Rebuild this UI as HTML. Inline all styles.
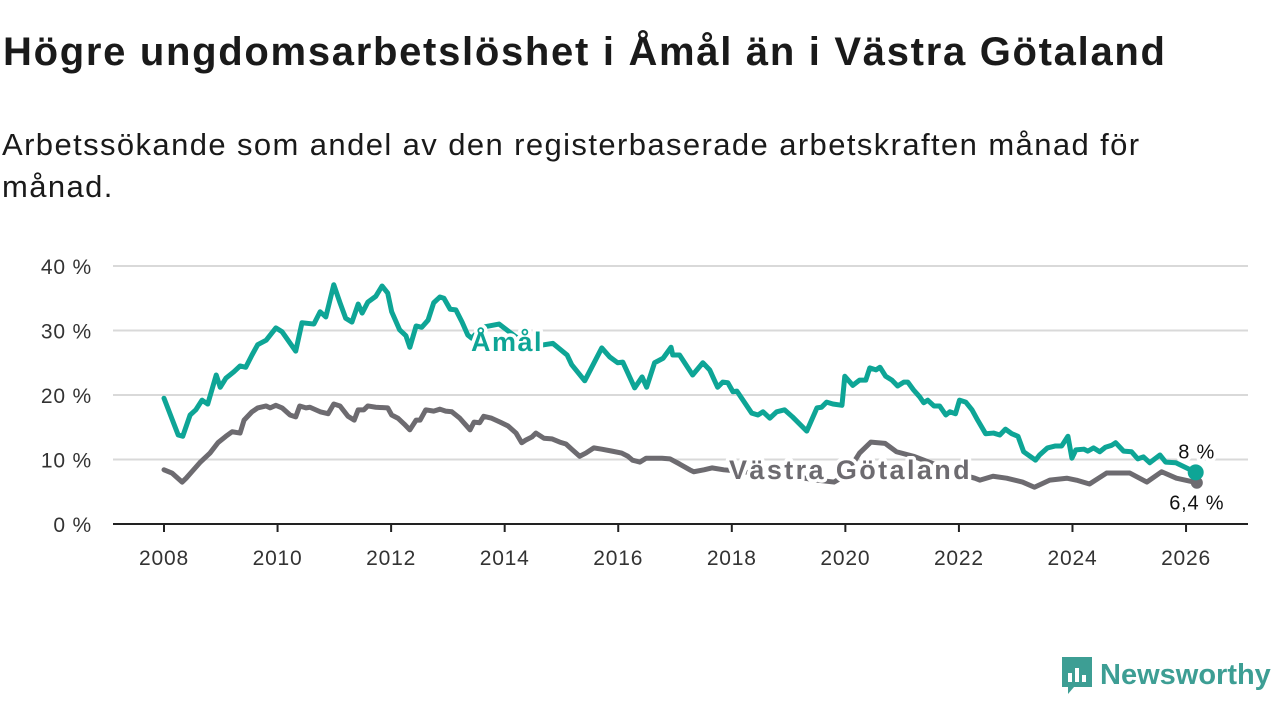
<!DOCTYPE html>
<html><head><meta charset="utf-8">
<style>
body{margin:0;width:1280px;height:720px;background:#fff;font-family:"Liberation Sans","DejaVu Sans",sans-serif;overflow:hidden;position:relative}
h1{position:absolute;left:3px;top:30px;margin:0;font-size:40px;font-weight:bold;color:#1a1a1a;letter-spacing:1.7px;white-space:nowrap}
.sub{position:absolute;left:2px;top:124px;margin:0;font-size:31px;line-height:42px;color:#1a1a1a;width:1185px;letter-spacing:1.4px}
svg{position:absolute;left:0;top:0}
.logo{position:absolute;left:1060px;top:655px;display:flex;align-items:center;color:#3d9e94;font-size:29px;font-weight:bold}
</style></head><body>
<h1>Högre ungdomsarbetslöshet i Åmål än i Västra Götaland</h1>
<p class="sub">Arbetssökande som andel av den registerbaserade arbetskraften månad för månad.</p>
<svg id="chart" width="1280" height="720"></svg>
<div class="logo">
<svg width="34" height="40" style="position:static;margin-right:6px"><path d="M2 2h30v30H14l-6 7v-7H2z" fill="#3d9e94"/><rect x="8" y="18" width="4" height="9" fill="#fff"/><rect x="15" y="13" width="4" height="14" fill="#fff"/><rect x="22" y="20" width="4" height="7" fill="#fff"/></svg>
<span>Newsworthy</span></div>
<script>
const yTicks=[0,10,20,30,40];
const yTickLabels=["0 %","10 %","20 %","30 %","40 %"];
const xTicks=[2008,2010,2012,2014,2016,2018,2020,2022,2024,2026];
const amalDates=[2008.00,2008.25,2008.33,2008.46,2008.56,2008.67,2008.77,2008.92,2008.99,2009.09,2009.23,2009.34,2009.44,2009.55,2009.65,2009.80,2009.97,2010.08,2010.32,2010.43,2010.64,2010.75,2010.85,2010.99,2011.10,2011.20,2011.31,2011.42,2011.49,2011.59,2011.73,2011.84,2011.94,2012.01,2012.15,2012.26,2012.33,2012.44,2012.54,2012.65,2012.75,2012.86,2012.93,2013.04,2013.14,2013.25,2013.35,2013.42,2013.6,2013.9,2014.2,2014.5,2014.7,2014.85,2015.10,2015.18,2015.41,2015.71,2015.85,2015.99,2016.08,2016.29,2016.42,2016.50,2016.64,2016.79,2016.93,2016.96,2017.08,2017.31,2017.49,2017.61,2017.75,2017.84,2017.93,2018.02,2018.09,2018.35,2018.46,2018.55,2018.67,2018.79,2018.93,2019.07,2019.32,2019.50,2019.58,2019.67,2019.78,2019.94,2019.99,2020.13,2020.25,2020.36,2020.43,2020.54,2020.61,2020.71,2020.82,2020.92,2021.03,2021.10,2021.20,2021.31,2021.38,2021.45,2021.56,2021.66,2021.77,2021.84,2021.94,2022.01,2022.12,2022.23,2022.33,2022.47,2022.61,2022.72,2022.82,2022.93,2023.04,2023.14,2023.35,2023.42,2023.56,2023.70,2023.81,2023.92,2023.99,2024.06,2024.20,2024.27,2024.37,2024.48,2024.58,2024.69,2024.76,2024.90,2025.04,2025.15,2025.25,2025.36,2025.54,2025.64,2025.82,2026.17];
const amalValues=[19.5,13.8,13.6,16.9,17.7,19.2,18.6,23.1,21.2,22.6,23.6,24.5,24.3,26.2,27.8,28.5,30.4,29.8,26.8,31.2,31.0,32.9,32.1,37.1,34.3,31.9,31.3,34.1,32.7,34.4,35.3,36.9,35.8,32.9,30.1,29.2,27.4,30.7,30.5,31.6,34.3,35.2,35.0,33.3,33.2,31.3,29.3,28.8,30.5,31.0,29.0,27.5,27.8,28.0,26.2,24.7,22.2,27.3,25.9,25.0,25.1,21.1,22.8,21.2,25.0,25.7,27.4,26.2,26.2,23.1,25.0,23.9,21.2,22.0,21.9,20.5,20.6,17.2,16.9,17.4,16.4,17.4,17.7,16.6,14.4,18.0,18.1,18.9,18.6,18.4,22.9,21.5,22.3,22.3,24.2,23.9,24.3,22.9,22.3,21.4,22.0,22.0,20.8,19.7,18.8,19.2,18.3,18.3,16.9,17.4,17.1,19.2,18.9,17.7,16.1,14.0,14.1,13.8,14.7,14.0,13.6,11.2,9.9,10.7,11.8,12.1,12.1,13.6,10.2,11.5,11.6,11.3,11.8,11.2,11.9,12.2,12.6,11.3,11.2,10.1,10.4,9.5,10.7,9.6,9.5,8.0];
const vgDates=[2008.00,2008.14,2008.32,2008.39,2008.49,2008.63,2008.81,2008.95,2009.09,2009.20,2009.34,2009.41,2009.55,2009.65,2009.80,2009.87,2009.97,2010.08,2010.22,2010.32,2010.39,2010.50,2010.57,2010.75,2010.89,2010.99,2011.10,2011.24,2011.35,2011.42,2011.52,2011.59,2011.73,2011.94,2012.01,2012.12,2012.23,2012.33,2012.44,2012.51,2012.61,2012.75,2012.86,2012.96,2013.07,2013.21,2013.32,2013.39,2013.46,2013.56,2013.63,2013.77,2013.92,2014.06,2014.20,2014.30,2014.37,2014.48,2014.55,2014.69,2014.83,2014.97,2015.08,2015.18,2015.32,2015.43,2015.57,2015.71,2015.89,2016.06,2016.17,2016.25,2016.38,2016.49,2016.59,2016.77,2016.91,2017.08,2017.26,2017.33,2017.51,2017.65,2017.86,2018.0,2018.5,2019.0,2019.5,2019.8,2020.0,2020.25,2020.45,2020.7,2020.9,2021.2,2021.5,2021.8,2022.2,2022.28,2022.37,2022.60,2022.84,2023.12,2023.33,2023.60,2023.90,2024.07,2024.30,2024.60,2025.01,2025.31,2025.57,2025.83,2026.19];
const vgValues=[8.4,7.9,6.5,7.1,8.1,9.5,11.0,12.6,13.6,14.3,14.1,16.1,17.4,18.0,18.3,18.0,18.4,18.0,16.9,16.6,18.3,18.0,18.1,17.4,17.1,18.6,18.3,16.7,16.1,17.7,17.7,18.3,18.1,18.0,16.9,16.4,15.5,14.6,16.1,16.1,17.7,17.5,17.8,17.5,17.4,16.4,15.3,14.6,15.8,15.7,16.7,16.4,15.8,15.2,14.1,12.6,13.0,13.5,14.1,13.3,13.2,12.7,12.4,11.6,10.5,11.0,11.8,11.6,11.3,11.0,10.5,9.9,9.6,10.2,10.2,10.2,10.1,9.3,8.4,8.1,8.4,8.7,8.4,8.3,7.8,7.5,6.8,6.5,7.5,11.0,12.7,12.5,11.2,10.5,9.5,8.5,7.3,7.1,6.8,7.4,7.1,6.5,5.7,6.8,7.1,6.8,6.2,7.9,7.9,6.5,8.1,7.1,6.4];
const amalEndLabel="8 %", vgEndLabel="6,4 %";

const NS="http://www.w3.org/2000/svg", svg=document.getElementById('chart');
const x=d=>164+(d-2008)*56.78, y=v=>524-v*6.45;
function el(t,a,txt){const e=document.createElementNS(NS,t);for(const k in a)e.setAttribute(k,a[k]);if(txt!=null)e.textContent=txt;svg.appendChild(e);return e;}
yTicks.forEach((t,i)=>{
  if(t>0){const g=el('line',{x1:113,x2:1248,y1:y(t),y2:y(t),stroke:'#d9d9d9','stroke-width':2});
  
  }
  const l=el('text',{x:92,y:y(t)+8,'text-anchor':'end','font-size':21,fill:'#333','letter-spacing':0.8},yTickLabels[i]);
  
  
});
const ax=el('line',{x1:113,x2:1248,y1:524,y2:524,stroke:'#222','stroke-width':2});


xTicks.forEach(t=>{
  const k=el('line',{x1:x(t),x2:x(t),y1:524,y2:532,stroke:'#222','stroke-width':2});
  
  
  const l=el('text',{x:x(t),y:565,'text-anchor':'middle','font-size':21,fill:'#333','letter-spacing':0.8},t);
  
  
});
function line(ds,vs,c,name){const p=el('polyline',{points:ds.map((d,i)=>x(d)+','+y(vs[i])).join(' '),fill:'none',stroke:c,'stroke-width':5,'stroke-linejoin':'round','stroke-linecap':'round'});

}
line(vgDates,vgValues,'#6d6b70','line-vastra-gotaland');
line(amalDates,amalValues,'#0ea596','line-amal');
const n1=amalDates.length-1,n2=vgDates.length-1;
const d2=el('circle',{cx:x(vgDates[n2]),cy:y(vgValues[n2]),r:6,fill:'#6d6b70'});


const d1=el('circle',{cx:x(amalDates[n1]),cy:y(amalValues[n1]),r:8,fill:'#0ea596'});


function lab(t,xx,yy,c,sz,w,name,anchor,ls){const e=el('text',{x:xx,y:yy,fill:c,'font-size':sz,'font-weight':w,stroke:'#fff','stroke-width':7,'paint-order':'stroke','stroke-linejoin':'round','text-anchor':anchor||'start','letter-spacing':ls||0},t);

}
lab('Åmål',471,351,'#0ea596',27,'bold','series-label-amal','start',1.5);
lab('Västra Götaland',729,479,'#6d6b70',27,'bold','series-label-vastra-gotaland','start',2.4);
lab(amalEndLabel,x(amalDates[n1])+1,y(amalValues[n1])-14,'#111',20,'normal','end-value-amal','middle',0.8);
lab(vgEndLabel,x(vgDates[n2]),y(vgValues[n2])+27,'#111',20,'normal','end-value-vastra-gotaland','middle',0.8);
</script>
</body></html>
